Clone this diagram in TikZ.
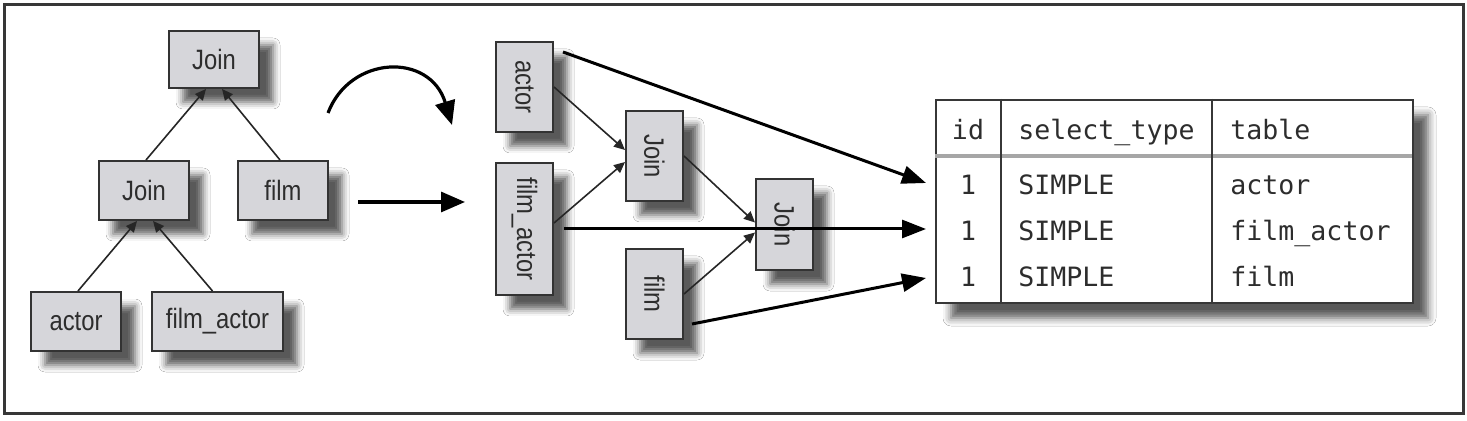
\documentclass[tikz,border=0pt]{standalone}
\usepackage{fontspec}
\usepackage{graphicx}
\newfontfamily\boxfont[FakeStretch=0.85]{Liberation Sans}
\newfontfamily\tabfont{DejaVu Sans Mono}
\usetikzlibrary{arrows.meta,shadows.blur}
\definecolor{boxgray}{RGB}{214,214,218}
\definecolor{framegray}{RGB}{55,55,55}
\definecolor{txtgray}{RGB}{45,45,45}
\tikzset{
  opbox/.style={draw=black!80, line width=1pt, fill=boxgray, text=txtgray, inner sep=0pt,
    font=\boxfont\fontsize{14pt}{16pt}\selectfont,
    blur shadow={shadow xshift=7pt, shadow yshift=-7pt, shadow blur radius=3.5pt, shadow opacity=65}},
  tabbox/.style={draw=framegray, line width=1pt, fill=white, inner sep=0pt,
    blur shadow={shadow xshift=7.5pt, shadow yshift=-7.5pt, shadow blur radius=4pt, shadow opacity=65}},
  tabtxt/.style={inner sep=0pt, text=txtgray, font=\tabfont\fontsize{13.3pt}{15pt}\selectfont},
  thinarrow/.style={draw=black!85, line width=0.8pt, -{Triangle[length=5.5pt,width=5pt]}},
  thickarrow/.style={draw=black, line width=1.5pt, -{Triangle[length=12pt,width=9pt]}},
  bigarrow/.style={draw=black, line width=1.6pt, -{Triangle[length=12pt,width=10pt]}},
}
\begin{document}
\begin{tikzpicture}[x=0.5pt,y=-0.5pt]
\useasboundingbox (0,0) rectangle (1467,421);
\fill[white] (0,0) rectangle (1467,421);
\draw[framegray, line width=1.5pt] (4,5) rectangle (1463,414);

% left tree
\node[opbox, minimum width=45pt, minimum height=28.5pt] (tj) at (214,59.5) {Join};
\node[opbox, minimum width=45pt, minimum height=29.5pt] (mj) at (144,190.5) {Join};
\node[opbox, minimum width=45pt, minimum height=29.5pt] (tf) at (283,190.5) {film};
\node[opbox, minimum width=45pt, minimum height=29.5pt] (ta) at (76,321.5) {actor};
\node[opbox, minimum width=65.5pt, minimum height=29.5pt] (tfa) at (217.5,321.5) {film\_actor};

\draw[thinarrow] ([xshift=1pt]mj.north) -- ([xshift=-4pt]tj.south);
\draw[thinarrow] ([xshift=-1.5pt]tf.north) -- ([xshift=4pt]tj.south);
\draw[thinarrow] ([xshift=1pt]ta.north) -- ([xshift=-3.5pt]mj.south);
\draw[thinarrow] ([xshift=-2.5pt]tfa.north) -- ([xshift=4.5pt]mj.south);

% transition arrows
\coordinate (cs) at (328,113);
\coordinate (ce) at (452,125);
\draw[bigarrow] (cs) .. controls (350,55) and (430,52) .. (ce);
\coordinate (ss) at (358,202);
\coordinate (se) at (465,202);
\draw[bigarrow] (ss) -- (se);

% middle plan
\node[opbox, minimum width=28.5pt, minimum height=45pt] (ma) at (524.5,87) {\rotatebox{-90}{actor}};
\node[opbox, minimum width=28.5pt, minimum height=66pt] (mfa) at (524.5,229) {\rotatebox{-90}{film\_actor}};
\node[opbox, minimum width=28.5pt, minimum height=45pt] (mj1) at (654.5,156) {\rotatebox{-90}{Join}};
\node[opbox, minimum width=28.5pt, minimum height=45pt] (mf) at (654.5,294) {\rotatebox{-90}{film}};
\node[opbox, minimum width=28.5pt, minimum height=45.5pt] (mj2) at (784.5,224.5) {\rotatebox{-90}{Join}};

\draw[thinarrow] (ma.east) -- ([yshift=3pt]mj1.west);
\draw[thinarrow] ([yshift=3pt]mfa.east) -- ([yshift=-3pt]mj1.west);
\draw[thinarrow] (mj1.east) -- ([yshift=1pt]mj2.west);
\draw[thinarrow] (mf.east) -- ([yshift=-4pt]mj2.west);

% table
\node[tabbox, minimum width=238.5pt, minimum height=101.5pt] (tbl) at (1174.5,201.5) {};
\draw[gray!70, line width=2pt] (tbl.north west) ++(0,57) -- ++(477,0);
\draw[framegray, line width=1pt] (tbl.north west) ++(66,0) -- ++(0,203);
\draw[framegray, line width=1pt] (tbl.north west) ++(277,0) -- ++(0,203);

\node[tabtxt, anchor=base] (h1) at (968,140) {id};
\node[tabtxt, anchor=base west] (h2) at (1018,140) {select\_type};
\node[tabtxt, anchor=base west] (h3) at (1230,140) {table};
\node[tabtxt, anchor=base] (r1a) at (968,195) {1};
\node[tabtxt, anchor=base west] (r1b) at (1018,195) {SIMPLE};
\node[tabtxt, anchor=base west] (r1c) at (1230,195) {actor};
\node[tabtxt, anchor=base] (r2a) at (968,241) {1};
\node[tabtxt, anchor=base west] (r2b) at (1018,241) {SIMPLE};
\node[tabtxt, anchor=base west] (r2c) at (1230,241) {film\_actor};
\node[tabtxt, anchor=base] (r3a) at (968,287) {1};
\node[tabtxt, anchor=base west] (r3b) at (1018,287) {SIMPLE};
\node[tabtxt, anchor=base west] (r3c) at (1230,287) {film};

\coordinate (in1) at (926,183);
\coordinate (in2) at (926,229);
\coordinate (in3) at (926,278);
\draw[thickarrow] ([shift={(4.5pt,-5.5pt)}]ma.north east) -- (in1);
\draw[thickarrow] ([xshift=5pt]mfa.east) -- (in2);
\draw[thickarrow] ([shift={(4pt,8pt)}]mf.south east) -- (in3);
\end{tikzpicture}
\end{document}
